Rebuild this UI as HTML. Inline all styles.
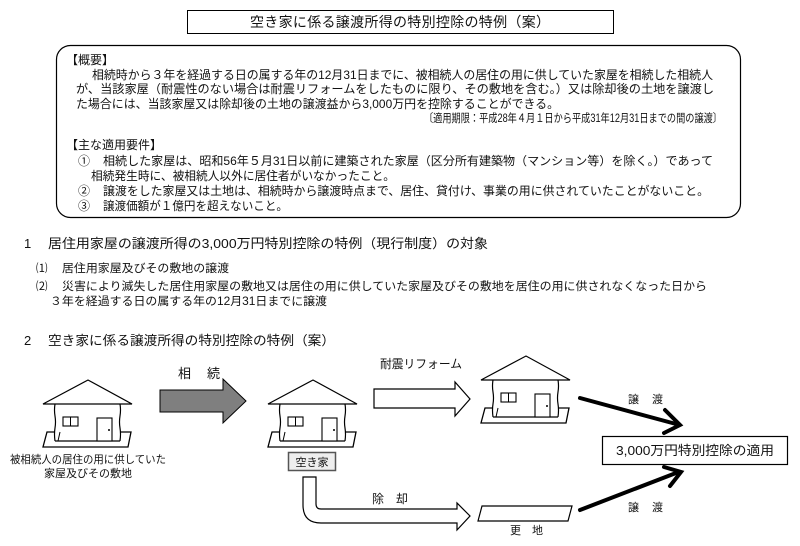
<!DOCTYPE html>
<html><head><meta charset="utf-8"><style>
html,body{margin:0;padding:0;background:#fff;}
svg{display:block;font-family:"Liberation Sans","Noto Sans CJK JP",sans-serif;}
text{fill:#111;}
</style></head><body>
<svg width="800" height="546" viewBox="0 0 800 546" xmlns="http://www.w3.org/2000/svg">
<defs>
<g id="house">
  <polygon points="-41,52 -45,67 40,67 43,52" fill="#fff" stroke="#000" stroke-width="1.3"/>
  <rect x="-33" y="24" width="65" height="37" fill="#fff"/>
  <path d="M-33,24 q-1,6 0,12 q1,6 0,12 q-1,6 0,13" fill="none" stroke="#000" stroke-width="1.2"/>
  <path d="M32,24 q1,6 0,12 q-1,6 0,12 q1,6 0,13" fill="none" stroke="#000" stroke-width="1.2"/>
  <line x1="-33" y1="61" x2="32" y2="61" stroke="#000" stroke-width="1.2"/>
  <line x1="-30" y1="61" x2="-28" y2="52" stroke="#000" stroke-width="1"/>
  <polygon points="-45,24 0,0 44,24" fill="#fff" stroke="#000" stroke-width="1.2"/>
  <rect x="-25" y="37" width="15" height="9" fill="#fff" stroke="#000" stroke-width="1.1"/>
  <line x1="-17.5" y1="37" x2="-17.5" y2="46" stroke="#000" stroke-width="1"/>
  <rect x="9" y="38" width="15" height="23" fill="#fff" stroke="#000" stroke-width="1.1"/>
  <circle cx="21" cy="50" r="1" fill="#000"/>
</g>
</defs>

<rect x="187.5" y="10.5" width="426" height="23" fill="#fff" stroke="#000" stroke-width="1"/>
<text x="400" y="27" font-size="14" text-anchor="middle" textLength="300">空き家に係る譲渡所得の特別控除の特例（案）</text>

<rect x="56.5" y="45.5" width="684" height="172" rx="14" fill="#fff" stroke="#000" stroke-width="1.2"/>
<g font-size="12">
<text x="66" y="64">【概要】</text>
<text x="92" y="79" textLength="621" lengthAdjust="spacingAndGlyphs">相続時から３年を経過する日の属する年の12月31日までに、被相続人の居住の用に供していた家屋を相続した相続人</text>
<text x="76" y="93" textLength="638" lengthAdjust="spacingAndGlyphs">が、当該家屋（耐震性のない場合は耐震リフォームをしたものに限り、その敷地を含む。）又は除却後の土地を譲渡し</text>
<text x="76" y="108" textLength="483" lengthAdjust="spacingAndGlyphs">た場合には、当該家屋又は除却後の土地の譲渡益から3,000万円を控除することができる。</text>
<text x="424" y="122" font-size="11.5" textLength="298" lengthAdjust="spacingAndGlyphs">〔適用期限：平成28年４月１日から平成31年12月31日までの間の譲渡〕</text>
<text x="66" y="149">【主な適用要件】</text>
<text x="78" y="165">①</text>
<text x="103" y="165" textLength="610" lengthAdjust="spacingAndGlyphs">相続した家屋は、昭和56年５月31日以前に建築された家屋（区分所有建築物（マンション等）を除く。）であって</text>
<text x="91" y="180" textLength="304" lengthAdjust="spacingAndGlyphs">相続発生時に、被相続人以外に居住者がいなかったこと。</text>
<text x="78" y="195">②</text>
<text x="103" y="195" textLength="606" lengthAdjust="spacingAndGlyphs">譲渡をした家屋又は土地は、相続時から譲渡時点まで、居住、貸付け、事業の用に供されていたことがないこと。</text>
<text x="78" y="210">③</text>
<text x="103" y="210" textLength="185" lengthAdjust="spacingAndGlyphs">譲渡価額が１億円を超えないこと。</text>
</g>

<g font-size="13">
<text x="24" y="248">1</text>
<text x="48" y="248" textLength="440" lengthAdjust="spacingAndGlyphs">居住用家屋の譲渡所得の3,000万円特別控除の特例（現行制度）の対象</text>
</g>
<g font-size="11.5">
<text x="36" y="272">⑴</text>
<text x="62" y="272" textLength="167" lengthAdjust="spacingAndGlyphs">居住用家屋及びその敷地の譲渡</text>
<text x="36" y="290">⑵</text>
<text x="62" y="290" textLength="645" lengthAdjust="spacingAndGlyphs">災害により滅失した居住用家屋の敷地又は居住の用に供していた家屋及びその敷地を居住の用に供されなくなった日から</text>
<text x="50" y="305" textLength="277" lengthAdjust="spacingAndGlyphs">３年を経過する日の属する年の12月31日までに譲渡</text>
</g>
<g font-size="13">
<text x="24" y="345">2</text>
<text x="48" y="345" textLength="287" lengthAdjust="spacingAndGlyphs">空き家に係る譲渡所得の特別控除の特例（案）</text>
</g>

<use href="#house" x="88" y="380"/>
<use href="#house" x="313" y="380"/>
<use href="#house" x="526" y="356"/>

<g font-size="11">
<text x="88" y="463" text-anchor="middle" textLength="156" lengthAdjust="spacingAndGlyphs">被相続人の居住の用に供していた</text>
<text x="88" y="477" text-anchor="middle">家屋及びその敷地</text>
</g>

<polygon points="160,390 223,390 223,379 246,401 223,423 223,412 160,412" fill="#7f7f7f" stroke="#000" stroke-width="1"/>
<text x="178" y="378" font-size="13" textLength="42" lengthAdjust="spacing">相 続</text>

<rect x="288.5" y="452.5" width="47" height="18" fill="#eee" stroke="#555" stroke-width="1.5"/>
<text x="312" y="466" font-size="11" text-anchor="middle">空き家</text>

<path d="M303,477 L303,505 Q303,523 321,523 L457,523 L457,530 L470,516 L457,503 L457,509 L321,509 Q316,509 316,504 L316,477 Z" fill="#fff" stroke="#000" stroke-width="1.2"/>
<text x="372" y="503" font-size="12" textLength="36" lengthAdjust="spacing">除 却</text>

<polygon points="374,389 455,389 455,382 470,399 455,416 455,408 374,408" fill="#fff" stroke="#000" stroke-width="1.2"/>
<text x="380" y="368" font-size="12" textLength="82" lengthAdjust="spacingAndGlyphs">耐震リフォーム</text>

<polygon points="482,506 572,506 568,521 478,521" fill="#fff" stroke="#000" stroke-width="1.2"/>
<text x="510" y="534" font-size="11" textLength="33" lengthAdjust="spacing">更 地</text>

<g stroke="#000" stroke-width="4" fill="none" stroke-linecap="round">
<line x1="580" y1="398" x2="676" y2="424"/>
<polyline points="665,410 680,425 664,433"/>
<line x1="580" y1="510" x2="676" y2="473"/>
<polyline points="664,467 681,472 670,486"/>
</g>
<text x="628" y="403" font-size="11" textLength="35" lengthAdjust="spacing">譲 渡</text>
<text x="628" y="511" font-size="11" textLength="35" lengthAdjust="spacing">譲 渡</text>

<rect x="602.5" y="436.5" width="185" height="28" fill="#fff" stroke="#000" stroke-width="1.2"/>
<text x="695" y="455" font-size="13" text-anchor="middle" textLength="158" lengthAdjust="spacingAndGlyphs">3,000万円特別控除の適用</text>
</svg>
</body></html>
